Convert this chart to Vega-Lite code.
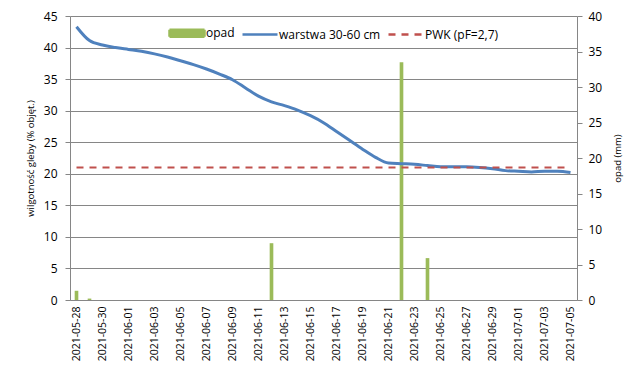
{
  "$schema": "https://vega.github.io/schema/vega-lite/v6.json",
  "width": 507,
  "height": 284,
  "autosize": {"type": "none"},
  "padding": {"left": 70, "top": 16, "right": 67, "bottom": 69},
  "background": "white",
  "config": {
    "font": "Open Sans",
    "view": {"stroke": null},
    "axis": {"domainColor": "#868686", "tickColor": "#868686", "gridColor": "#868686", "labelColor": "#000000", "titleColor": "#000000", "titleFontWeight": "normal"}
  },
  "data": {"values": [
    {"date": "2021-05-28", "w": 43.3, "opad": 1.3, "pwk": 21},
    {"date": "2021-05-29", "w": 41.1, "opad": 0.2, "pwk": 21},
    {"date": "2021-05-30", "w": 40.4, "opad": 0, "pwk": 21},
    {"date": "2021-05-31", "w": 40.0, "opad": 0, "pwk": 21},
    {"date": "2021-06-01", "w": 39.7, "opad": 0, "pwk": 21},
    {"date": "2021-06-02", "w": 39.4, "opad": 0, "pwk": 21},
    {"date": "2021-06-03", "w": 39.0, "opad": 0, "pwk": 21},
    {"date": "2021-06-04", "w": 38.5, "opad": 0, "pwk": 21},
    {"date": "2021-06-05", "w": 37.9, "opad": 0, "pwk": 21},
    {"date": "2021-06-06", "w": 37.3, "opad": 0, "pwk": 21},
    {"date": "2021-06-07", "w": 36.6, "opad": 0, "pwk": 21},
    {"date": "2021-06-08", "w": 35.8, "opad": 0, "pwk": 21},
    {"date": "2021-06-09", "w": 34.9, "opad": 0, "pwk": 21},
    {"date": "2021-06-10", "w": 33.6, "opad": 0, "pwk": 21},
    {"date": "2021-06-11", "w": 32.3, "opad": 0, "pwk": 21},
    {"date": "2021-06-12", "w": 31.4, "opad": 8.0, "pwk": 21},
    {"date": "2021-06-13", "w": 30.8, "opad": 0, "pwk": 21},
    {"date": "2021-06-14", "w": 30.1, "opad": 0, "pwk": 21},
    {"date": "2021-06-15", "w": 29.2, "opad": 0, "pwk": 21},
    {"date": "2021-06-16", "w": 28.1, "opad": 0, "pwk": 21},
    {"date": "2021-06-17", "w": 26.7, "opad": 0, "pwk": 21},
    {"date": "2021-06-18", "w": 25.3, "opad": 0, "pwk": 21},
    {"date": "2021-06-19", "w": 23.9, "opad": 0, "pwk": 21},
    {"date": "2021-06-20", "w": 22.6, "opad": 0, "pwk": 21},
    {"date": "2021-06-21", "w": 21.7, "opad": 0, "pwk": 21},
    {"date": "2021-06-22", "w": 21.6, "opad": 33.5, "pwk": 21},
    {"date": "2021-06-23", "w": 21.5, "opad": 0, "pwk": 21},
    {"date": "2021-06-24", "w": 21.3, "opad": 5.9, "pwk": 21},
    {"date": "2021-06-25", "w": 21.1, "opad": 0, "pwk": 21},
    {"date": "2021-06-26", "w": 21.1, "opad": 0, "pwk": 21},
    {"date": "2021-06-27", "w": 21.1, "opad": 0, "pwk": 21},
    {"date": "2021-06-28", "w": 21.0, "opad": 0, "pwk": 21},
    {"date": "2021-06-29", "w": 20.8, "opad": 0, "pwk": 21},
    {"date": "2021-06-30", "w": 20.5, "opad": 0, "pwk": 21},
    {"date": "2021-07-01", "w": 20.4, "opad": 0, "pwk": 21},
    {"date": "2021-07-02", "w": 20.3, "opad": 0, "pwk": 21},
    {"date": "2021-07-03", "w": 20.4, "opad": 0, "pwk": 21},
    {"date": "2021-07-04", "w": 20.4, "opad": 0, "pwk": 21},
    {"date": "2021-07-05", "w": 20.2, "opad": 0, "pwk": 21}
  ]},
  "encoding": {
    "x": {
      "field": "date", "type": "ordinal",
      "scale": {"paddingInner": 0, "paddingOuter": 0},
      "axis": {
        "title": null, "labelAngle": 270, "labelFontSize": 10.5, "ticks": false, "labelPadding": 6,
        "values": ["2021-05-28","2021-05-30","2021-06-01","2021-06-03","2021-06-05","2021-06-07","2021-06-09","2021-06-11","2021-06-13","2021-06-15","2021-06-17","2021-06-19","2021-06-21","2021-06-23","2021-06-25","2021-06-27","2021-06-29","2021-07-01","2021-07-03","2021-07-05"]
      }
    }
  },
  "layer": [
    {
      "mark": {"type": "bar", "width": {"band": 0.28}},
      "encoding": {
        "y": {
          "field": "opad", "type": "quantitative",
          "scale": {"domain": [0, 40], "nice": false},
          "axis": {"orient": "right", "title": "opad (mm)", "titleAngle": 270, "titleFontSize": 9.5, "titleX": 40, "titleBaseline": "middle", "values": [0,5,10,15,20,25,30,35,40], "labelFontSize": 12, "tickSize": 5, "grid": false, "labelPadding": 6}
        },
        "color": {
          "datum": "opad", "type": "nominal",
          "scale": {"domain": ["opad", "warstwa 30-60 cm", "PWK (pF=2,7)"], "range": ["#9bbb59", "#4f81bd", "#c0504d"]},
          "legend": {
            "orient": "none", "direction": "horizontal", "legendX": 98, "legendY": -2, "title": null,
            "symbolSize": 1225, "symbolStrokeWidth": 2.5, "labelFontSize": 12, "labelOffset": 0, "columnPadding": 2, "padding": 0,
            "encode": {"symbols": {"update": {
              "shape": {"signal": "datum.value === 'opad' ? 'M-1,-0.2H1V0.2H-1Z' : 'stroke'"},
              "fill": {"signal": "datum.value === 'opad' ? '#9bbb59' : 'transparent'"},
              "stroke": {"signal": "datum.value === 'opad' ? 'transparent' : (datum.value === 'PWK (pF=2,7)' ? '#c0504d' : '#4f81bd')"},
              "strokeDash": {"signal": "datum.value === 'PWK (pF=2,7)' ? [7, 6] : [1, 0]"},
              "opacity": {"value": 1}
            }}}
          }
        }
      }
    },
    {
      "layer": [
        {
          "mark": {"type": "line", "strokeWidth": 3, "interpolate": "monotone"},
          "encoding": {
            "y": {
              "field": "w", "type": "quantitative", "scale": {"domain": [0, 45], "nice": false},
              "axis": {"title": "wilgotność gleby (% objęt.)", "titleFontSize": 9.5, "titleX": -40, "titleBaseline": "middle", "values": [0,5,10,15,20,25,30,35,40,45], "labelFontSize": 12, "tickSize": 5, "grid": true, "labelPadding": 8}
            },
            "color": {"datum": "warstwa 30-60 cm", "type": "nominal"}
          }
        },
        {
          "mark": {"type": "line", "strokeWidth": 2, "strokeDash": [7, 6]},
          "encoding": {
            "y": {
              "field": "pwk", "type": "quantitative", "scale": {"domain": [0, 45], "nice": false},
              "axis": {"title": "wilgotność gleby (% objęt.)", "titleFontSize": 9.5, "titleX": -40, "titleBaseline": "middle", "values": [0,5,10,15,20,25,30,35,40,45], "labelFontSize": 12, "tickSize": 5, "grid": true, "labelPadding": 8}
            },
            "color": {"datum": "PWK (pF=2,7)", "type": "nominal"}
          }
        }
      ]
    }
  ],
  "resolve": {"scale": {"y": "independent"}}
}
